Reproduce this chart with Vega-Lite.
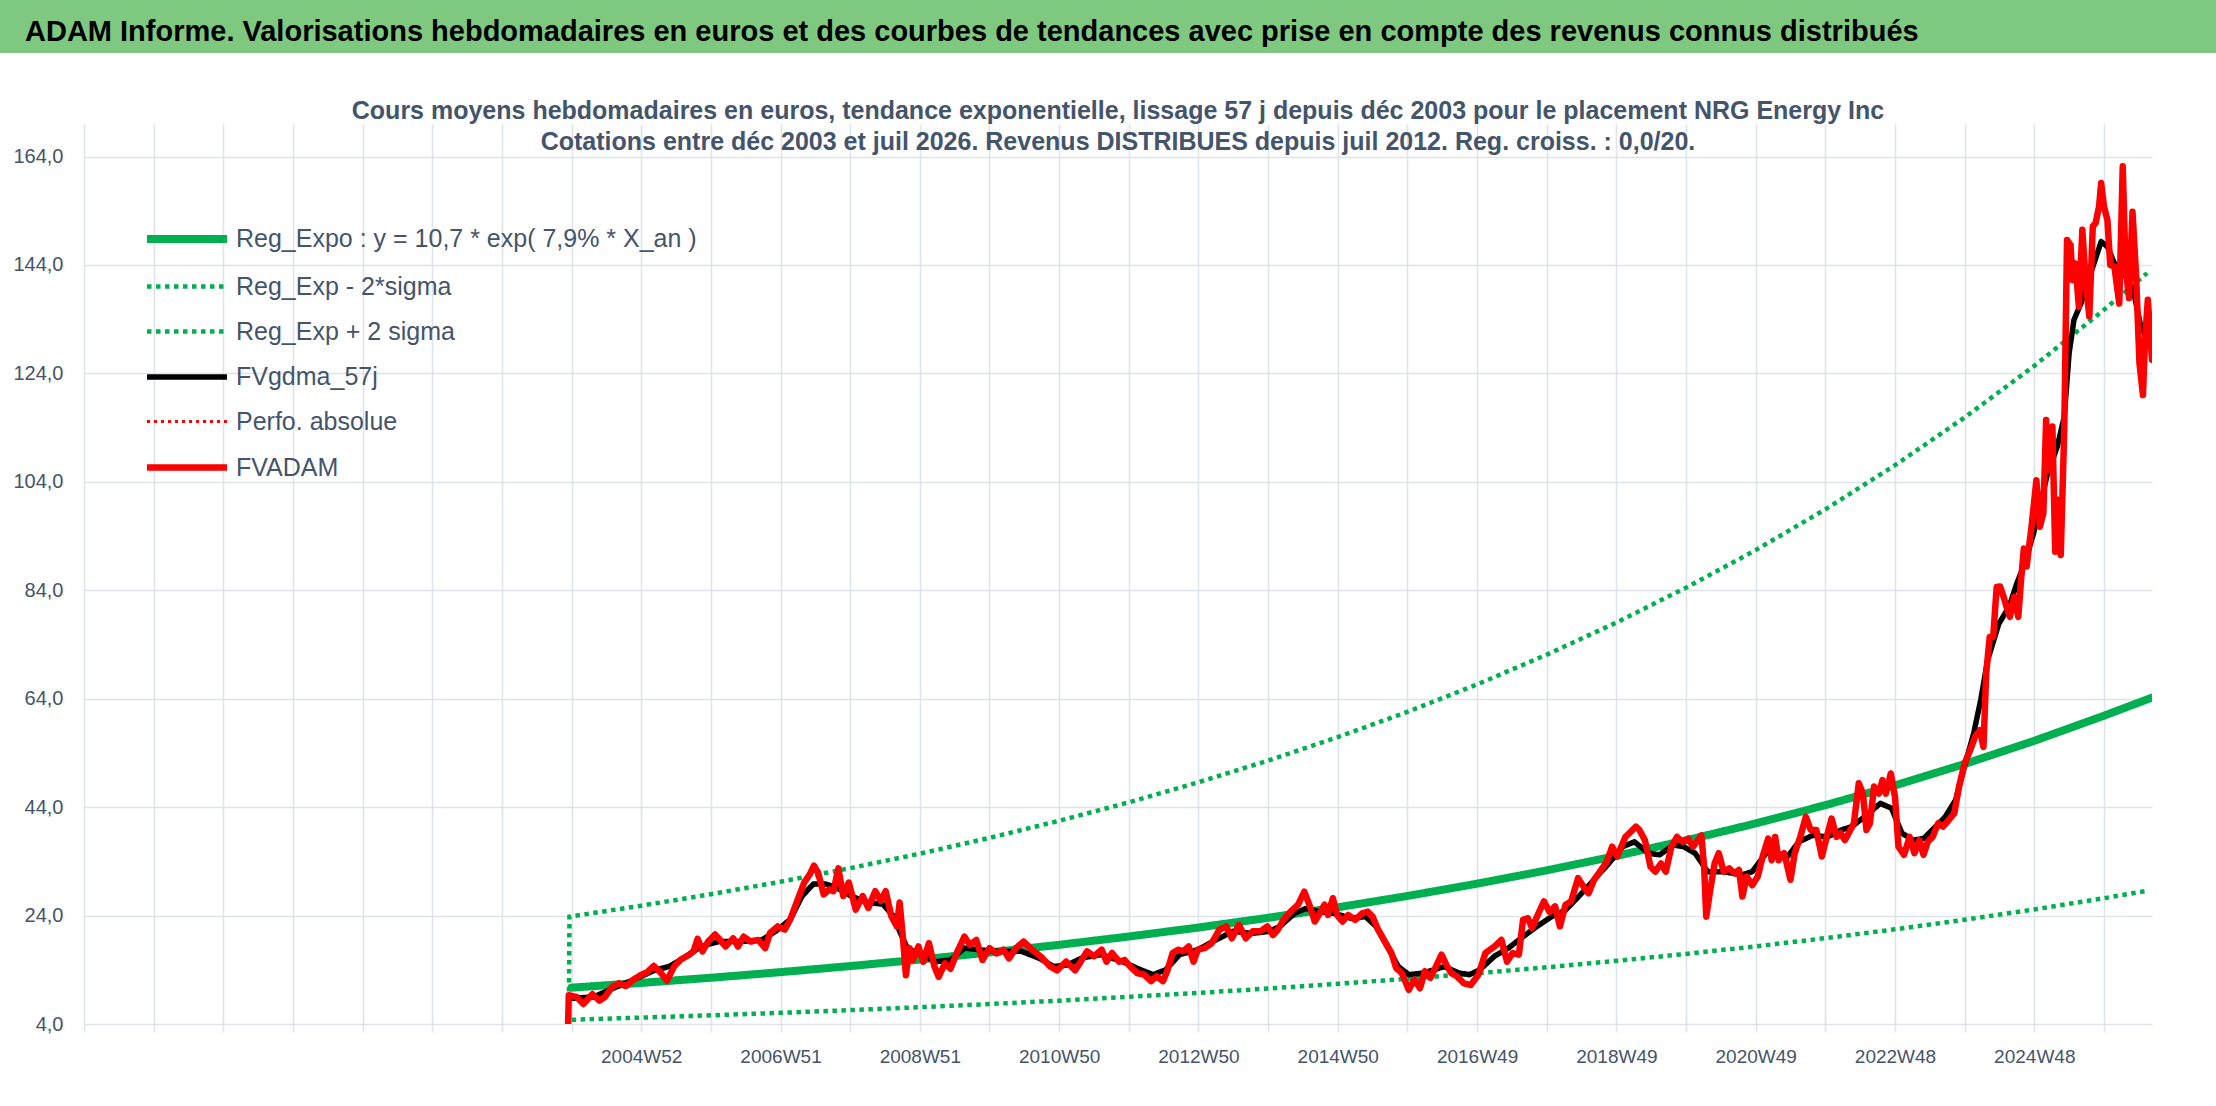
{
  "$schema": "https://vega.github.io/schema/vega-lite/v6.json",
  "padding": 0,
  "background": "white",
  "bounds": "flush",
  "center": true,
  "spacing": 71,
  "datasets": {
    "reg_expo": [
      {"serie": "reg", "x_an": 0, "valeur": 10.70}, {"serie": "reg", "x_an": 1, "valeur": 11.58}, {"serie": "reg", "x_an": 2, "valeur": 12.53},
      {"serie": "reg", "x_an": 3, "valeur": 13.56}, {"serie": "reg", "x_an": 4, "valeur": 14.68}, {"serie": "reg", "x_an": 5, "valeur": 15.88},
      {"serie": "reg", "x_an": 6, "valeur": 17.19}, {"serie": "reg", "x_an": 7, "valeur": 18.60}, {"serie": "reg", "x_an": 8, "valeur": 20.13},
      {"serie": "reg", "x_an": 9, "valeur": 21.79}, {"serie": "reg", "x_an": 10, "valeur": 23.58}, {"serie": "reg", "x_an": 11, "valeur": 25.52},
      {"serie": "reg", "x_an": 12, "valeur": 27.61}, {"serie": "reg", "x_an": 13, "valeur": 29.88}, {"serie": "reg", "x_an": 14, "valeur": 32.34},
      {"serie": "reg", "x_an": 15, "valeur": 35.00}, {"serie": "reg", "x_an": 16, "valeur": 37.88}, {"serie": "reg", "x_an": 17, "valeur": 40.99},
      {"serie": "reg", "x_an": 18, "valeur": 44.36}, {"serie": "reg", "x_an": 19, "valeur": 48.01}, {"serie": "reg", "x_an": 20, "valeur": 51.96},
      {"serie": "reg", "x_an": 21, "valeur": 56.23}, {"serie": "reg", "x_an": 22, "valeur": 60.86}, {"serie": "reg", "x_an": 22.69, "valeur": 64.2}
    ],
    "reg_bas": [
      {"serie": "bas", "x_an": 0, "valeur": 4.78}, {"serie": "bas", "x_an": 1, "valeur": 5.18}, {"serie": "bas", "x_an": 2, "valeur": 5.60},
      {"serie": "bas", "x_an": 3, "valeur": 6.06}, {"serie": "bas", "x_an": 4, "valeur": 6.56}, {"serie": "bas", "x_an": 5, "valeur": 7.10},
      {"serie": "bas", "x_an": 6, "valeur": 7.68}, {"serie": "bas", "x_an": 7, "valeur": 8.31}, {"serie": "bas", "x_an": 8, "valeur": 9.00},
      {"serie": "bas", "x_an": 9, "valeur": 9.74}, {"serie": "bas", "x_an": 10, "valeur": 10.54}, {"serie": "bas", "x_an": 11, "valeur": 11.41},
      {"serie": "bas", "x_an": 12, "valeur": 12.34}, {"serie": "bas", "x_an": 13, "valeur": 13.36}, {"serie": "bas", "x_an": 14, "valeur": 14.46},
      {"serie": "bas", "x_an": 15, "valeur": 15.65}, {"serie": "bas", "x_an": 16, "valeur": 16.93}, {"serie": "bas", "x_an": 17, "valeur": 18.32},
      {"serie": "bas", "x_an": 18, "valeur": 19.83}, {"serie": "bas", "x_an": 19, "valeur": 21.46}, {"serie": "bas", "x_an": 20, "valeur": 23.23},
      {"serie": "bas", "x_an": 21, "valeur": 25.13}, {"serie": "bas", "x_an": 22, "valeur": 27.20}, {"serie": "bas", "x_an": 22.62, "valeur": 28.56}
    ],
    "reg_haut": [
      {"serie": "haut", "x_an": -0.04, "valeur": 5.0}, {"serie": "haut", "x_an": -0.03, "valeur": 23.8}, {"serie": "haut", "x_an": 1, "valeur": 25.82},
      {"serie": "haut", "x_an": 2, "valeur": 27.94}, {"serie": "haut", "x_an": 3, "valeur": 30.24}, {"serie": "haut", "x_an": 4, "valeur": 32.74},
      {"serie": "haut", "x_an": 5, "valeur": 35.41}, {"serie": "haut", "x_an": 6, "valeur": 38.33}, {"serie": "haut", "x_an": 7, "valeur": 41.48},
      {"serie": "haut", "x_an": 8, "valeur": 44.89}, {"serie": "haut", "x_an": 9, "valeur": 48.59}, {"serie": "haut", "x_an": 10, "valeur": 52.58},
      {"serie": "haut", "x_an": 11, "valeur": 56.91}, {"serie": "haut", "x_an": 12, "valeur": 61.57}, {"serie": "haut", "x_an": 13, "valeur": 66.63},
      {"serie": "haut", "x_an": 14, "valeur": 72.12}, {"serie": "haut", "x_an": 15, "valeur": 78.05}, {"serie": "haut", "x_an": 16, "valeur": 84.47},
      {"serie": "haut", "x_an": 17, "valeur": 91.41}, {"serie": "haut", "x_an": 18, "valeur": 98.92}, {"serie": "haut", "x_an": 19, "valeur": 107.06},
      {"serie": "haut", "x_an": 20, "valeur": 115.87}, {"serie": "haut", "x_an": 21, "valeur": 125.39}, {"serie": "haut", "x_an": 22, "valeur": 135.72},
      {"serie": "haut", "x_an": 22.62, "valeur": 142.5}
    ],
    "fvgdma": [
      {"serie": "gdma", "x_an": -0.03, "valeur": 8.7}, {"serie": "gdma", "x_an": 0.32, "valeur": 9.0}, {"serie": "gdma", "x_an": 0.58, "valeur": 10.5},
      {"serie": "gdma", "x_an": 0.88, "valeur": 12.1}, {"serie": "gdma", "x_an": 1.19, "valeur": 13.9}, {"serie": "gdma", "x_an": 1.40, "valeur": 14.6},
      {"serie": "gdma", "x_an": 1.60, "valeur": 16.1}, {"serie": "gdma", "x_an": 1.86, "valeur": 18.3}, {"serie": "gdma", "x_an": 2.11, "valeur": 19.2},
      {"serie": "gdma", "x_an": 2.42, "valeur": 19.2}, {"serie": "gdma", "x_an": 2.73, "valeur": 19.5}, {"serie": "gdma", "x_an": 2.93, "valeur": 21.1},
      {"serie": "gdma", "x_an": 3.14, "valeur": 23.3}, {"serie": "gdma", "x_an": 3.31, "valeur": 27.6}, {"serie": "gdma", "x_an": 3.47, "valeur": 29.8},
      {"serie": "gdma", "x_an": 3.65, "valeur": 29.8}, {"serie": "gdma", "x_an": 3.80, "valeur": 29.2}, {"serie": "gdma", "x_an": 4.01, "valeur": 27.6},
      {"serie": "gdma", "x_an": 4.26, "valeur": 26.4}, {"serie": "gdma", "x_an": 4.47, "valeur": 26.1}, {"serie": "gdma", "x_an": 4.62, "valeur": 23.9},
      {"serie": "gdma", "x_an": 4.72, "valeur": 20.8}, {"serie": "gdma", "x_an": 4.82, "valeur": 18.0}, {"serie": "gdma", "x_an": 5.03, "valeur": 16.7},
      {"serie": "gdma", "x_an": 5.23, "valeur": 15.5}, {"serie": "gdma", "x_an": 5.44, "valeur": 15.8}, {"serie": "gdma", "x_an": 5.64, "valeur": 18.0},
      {"serie": "gdma", "x_an": 5.85, "valeur": 17.7}, {"serie": "gdma", "x_an": 6.05, "valeur": 17.4}, {"serie": "gdma", "x_an": 6.26, "valeur": 17.4},
      {"serie": "gdma", "x_an": 6.46, "valeur": 17.4}, {"serie": "gdma", "x_an": 6.72, "valeur": 16.1}, {"serie": "gdma", "x_an": 6.92, "valeur": 14.6},
      {"serie": "gdma", "x_an": 7.12, "valeur": 14.9}, {"serie": "gdma", "x_an": 7.33, "valeur": 16.2}, {"serie": "gdma", "x_an": 7.61, "valeur": 16.8},
      {"serie": "gdma", "x_an": 7.91, "valeur": 15.5}, {"serie": "gdma", "x_an": 8.17, "valeur": 14.0}, {"serie": "gdma", "x_an": 8.35, "valeur": 13.1},
      {"serie": "gdma", "x_an": 8.53, "valeur": 14.0}, {"serie": "gdma", "x_an": 8.73, "valeur": 16.8}, {"serie": "gdma", "x_an": 8.99, "valeur": 17.7},
      {"serie": "gdma", "x_an": 9.25, "valeur": 19.5}, {"serie": "gdma", "x_an": 9.50, "valeur": 21.1}, {"serie": "gdma", "x_an": 9.76, "valeur": 20.7},
      {"serie": "gdma", "x_an": 10.02, "valeur": 21.1}, {"serie": "gdma", "x_an": 10.17, "valeur": 22.0}, {"serie": "gdma", "x_an": 10.38, "valeur": 24.4},
      {"serie": "gdma", "x_an": 10.54, "valeur": 25.3}, {"serie": "gdma", "x_an": 10.74, "valeur": 24.7}, {"serie": "gdma", "x_an": 10.95, "valeur": 24.4},
      {"serie": "gdma", "x_an": 11.19, "valeur": 23.5}, {"serie": "gdma", "x_an": 11.40, "valeur": 23.8}, {"serie": "gdma", "x_an": 11.55, "valeur": 22.0},
      {"serie": "gdma", "x_an": 11.71, "valeur": 18.3}, {"serie": "gdma", "x_an": 11.87, "valeur": 14.6}, {"serie": "gdma", "x_an": 12.02, "valeur": 13.1},
      {"serie": "gdma", "x_an": 12.23, "valeur": 13.4}, {"serie": "gdma", "x_an": 12.38, "valeur": 14.0}, {"serie": "gdma", "x_an": 12.53, "valeur": 14.6},
      {"serie": "gdma", "x_an": 12.74, "valeur": 13.4}, {"serie": "gdma", "x_an": 12.89, "valeur": 13.1}, {"serie": "gdma", "x_an": 13.04, "valeur": 14.0},
      {"serie": "gdma", "x_an": 13.25, "valeur": 16.5}, {"serie": "gdma", "x_an": 13.45, "valeur": 18.0}, {"serie": "gdma", "x_an": 13.66, "valeur": 20.1},
      {"serie": "gdma", "x_an": 13.86, "valeur": 22.0}, {"serie": "gdma", "x_an": 14.07, "valeur": 23.8}, {"serie": "gdma", "x_an": 14.27, "valeur": 25.0},
      {"serie": "gdma", "x_an": 14.48, "valeur": 27.8}, {"serie": "gdma", "x_an": 14.68, "valeur": 30.6}, {"serie": "gdma", "x_an": 14.89, "valeur": 33.6},
      {"serie": "gdma", "x_an": 15.09, "valeur": 36.7}, {"serie": "gdma", "x_an": 15.26, "valeur": 37.6}, {"serie": "gdma", "x_an": 15.46, "valeur": 35.5},
      {"serie": "gdma", "x_an": 15.62, "valeur": 35.2}, {"serie": "gdma", "x_an": 15.82, "valeur": 37.0}, {"serie": "gdma", "x_an": 15.97, "valeur": 36.7},
      {"serie": "gdma", "x_an": 16.13, "valeur": 35.5}, {"serie": "gdma", "x_an": 16.31, "valeur": 32.1}, {"serie": "gdma", "x_an": 16.54, "valeur": 32.1},
      {"serie": "gdma", "x_an": 16.80, "valeur": 31.5}, {"serie": "gdma", "x_an": 16.95, "valeur": 32.1}, {"serie": "gdma", "x_an": 17.15, "valeur": 35.5},
      {"serie": "gdma", "x_an": 17.31, "valeur": 35.5}, {"serie": "gdma", "x_an": 17.46, "valeur": 34.9}, {"serie": "gdma", "x_an": 17.62, "valeur": 37.6},
      {"serie": "gdma", "x_an": 17.82, "valeur": 38.8}, {"serie": "gdma", "x_an": 18.03, "valeur": 38.5}, {"serie": "gdma", "x_an": 18.23, "valeur": 39.8},
      {"serie": "gdma", "x_an": 18.38, "valeur": 40.4}, {"serie": "gdma", "x_an": 18.59, "valeur": 42.5}, {"serie": "gdma", "x_an": 18.79, "valeur": 44.7},
      {"serie": "gdma", "x_an": 18.95, "valeur": 43.8}, {"serie": "gdma", "x_an": 19.10, "valeur": 39.2}, {"serie": "gdma", "x_an": 19.26, "valeur": 37.9},
      {"serie": "gdma", "x_an": 19.41, "valeur": 38.2}, {"serie": "gdma", "x_an": 19.56, "valeur": 40.1}, {"serie": "gdma", "x_an": 19.72, "valeur": 42.2},
      {"serie": "gdma", "x_an": 19.87, "valeur": 45.3}, {"serie": "gdma", "x_an": 19.97, "valeur": 50.2}, {"serie": "gdma", "x_an": 20.13, "valeur": 57.6},
      {"serie": "gdma", "x_an": 20.23, "valeur": 63.7}, {"serie": "gdma", "x_an": 20.33, "valeur": 71.1}, {"serie": "gdma", "x_an": 20.49, "valeur": 77.8},
      {"serie": "gdma", "x_an": 20.64, "valeur": 81.0}, {"serie": "gdma", "x_an": 20.75, "valeur": 85.3}, {"serie": "gdma", "x_an": 20.85, "valeur": 88.5},
      {"serie": "gdma", "x_an": 20.99, "valeur": 94.5}, {"serie": "gdma", "x_an": 21.18, "valeur": 105.0}, {"serie": "gdma", "x_an": 21.33, "valeur": 110.5},
      {"serie": "gdma", "x_an": 21.43, "valeur": 116.0}, {"serie": "gdma", "x_an": 21.50, "valeur": 127.7}, {"serie": "gdma", "x_an": 21.57, "valeur": 133.9},
      {"serie": "gdma", "x_an": 21.67, "valeur": 136.9}, {"serie": "gdma", "x_an": 21.81, "valeur": 142.5}, {"serie": "gdma", "x_an": 21.96, "valeur": 148.3},
      {"serie": "gdma", "x_an": 22.05, "valeur": 147.4}, {"serie": "gdma", "x_an": 22.15, "valeur": 144.3}, {"serie": "gdma", "x_an": 22.29, "valeur": 142.5},
      {"serie": "gdma", "x_an": 22.43, "valeur": 138.8}, {"serie": "gdma", "x_an": 22.53, "valeur": 132.6}, {"serie": "gdma", "x_an": 22.63, "valeur": 130.2},
      {"serie": "gdma", "x_an": 22.69, "valeur": 129.0}
    ],
    "fvadam": [
      {"serie": "adam", "x_an": -0.05, "valeur": 4.0}, {"serie": "adam", "x_an": -0.04, "valeur": 9.3}, {"serie": "adam", "x_an": 0.07, "valeur": 9.0},
      {"serie": "adam", "x_an": 0.17, "valeur": 7.7}, {"serie": "adam", "x_an": 0.30, "valeur": 9.5}, {"serie": "adam", "x_an": 0.40, "valeur": 8.3},
      {"serie": "adam", "x_an": 0.48, "valeur": 9.0}, {"serie": "adam", "x_an": 0.58, "valeur": 10.8}, {"serie": "adam", "x_an": 0.68, "valeur": 11.5},
      {"serie": "adam", "x_an": 0.78, "valeur": 11.0}, {"serie": "adam", "x_an": 0.88, "valeur": 12.1}, {"serie": "adam", "x_an": 0.99, "valeur": 13.0},
      {"serie": "adam", "x_an": 1.09, "valeur": 13.6}, {"serie": "adam", "x_an": 1.18, "valeur": 14.7}, {"serie": "adam", "x_an": 1.27, "valeur": 13.6},
      {"serie": "adam", "x_an": 1.37, "valeur": 12.0}, {"serie": "adam", "x_an": 1.47, "valeur": 14.6}, {"serie": "adam", "x_an": 1.57, "valeur": 15.9},
      {"serie": "adam", "x_an": 1.68, "valeur": 16.7}, {"serie": "adam", "x_an": 1.75, "valeur": 17.4}, {"serie": "adam", "x_an": 1.81, "valeur": 19.7},
      {"serie": "adam", "x_an": 1.88, "valeur": 17.4}, {"serie": "adam", "x_an": 1.96, "valeur": 19.2}, {"serie": "adam", "x_an": 2.06, "valeur": 20.5},
      {"serie": "adam", "x_an": 2.14, "valeur": 19.4}, {"serie": "adam", "x_an": 2.21, "valeur": 18.3}, {"serie": "adam", "x_an": 2.32, "valeur": 19.8},
      {"serie": "adam", "x_an": 2.39, "valeur": 18.3}, {"serie": "adam", "x_an": 2.47, "valeur": 20.1}, {"serie": "adam", "x_an": 2.57, "valeur": 19.2},
      {"serie": "adam", "x_an": 2.68, "valeur": 19.5}, {"serie": "adam", "x_an": 2.78, "valeur": 18.0}, {"serie": "adam", "x_an": 2.85, "valeur": 20.8},
      {"serie": "adam", "x_an": 2.96, "valeur": 22.0}, {"serie": "adam", "x_an": 3.06, "valeur": 21.4}, {"serie": "adam", "x_an": 3.14, "valeur": 23.3},
      {"serie": "adam", "x_an": 3.21, "valeur": 25.7}, {"serie": "adam", "x_an": 3.34, "valeur": 30.1}, {"serie": "adam", "x_an": 3.42, "valeur": 31.6},
      {"serie": "adam", "x_an": 3.48, "valeur": 33.2}, {"serie": "adam", "x_an": 3.54, "valeur": 31.9}, {"serie": "adam", "x_an": 3.62, "valeur": 27.9},
      {"serie": "adam", "x_an": 3.70, "valeur": 28.8}, {"serie": "adam", "x_an": 3.76, "valeur": 28.5}, {"serie": "adam", "x_an": 3.83, "valeur": 32.7},
      {"serie": "adam", "x_an": 3.90, "valeur": 27.6}, {"serie": "adam", "x_an": 3.98, "valeur": 30.1}, {"serie": "adam", "x_an": 4.08, "valeur": 25.1},
      {"serie": "adam", "x_an": 4.18, "valeur": 27.6}, {"serie": "adam", "x_an": 4.26, "valeur": 25.4}, {"serie": "adam", "x_an": 4.36, "valeur": 28.5},
      {"serie": "adam", "x_an": 4.44, "valeur": 26.7}, {"serie": "adam", "x_an": 4.51, "valeur": 28.5}, {"serie": "adam", "x_an": 4.59, "valeur": 23.9},
      {"serie": "adam", "x_an": 4.67, "valeur": 22.0}, {"serie": "adam", "x_an": 4.71, "valeur": 26.4}, {"serie": "adam", "x_an": 4.76, "valeur": 19.5},
      {"serie": "adam", "x_an": 4.80, "valeur": 13.0}, {"serie": "adam", "x_an": 4.85, "valeur": 18.0}, {"serie": "adam", "x_an": 4.90, "valeur": 15.8},
      {"serie": "adam", "x_an": 4.98, "valeur": 18.3}, {"serie": "adam", "x_an": 5.05, "valeur": 15.5}, {"serie": "adam", "x_an": 5.13, "valeur": 18.9},
      {"serie": "adam", "x_an": 5.21, "valeur": 14.6}, {"serie": "adam", "x_an": 5.27, "valeur": 12.7}, {"serie": "adam", "x_an": 5.36, "valeur": 15.2},
      {"serie": "adam", "x_an": 5.44, "valeur": 14.2}, {"serie": "adam", "x_an": 5.54, "valeur": 17.4}, {"serie": "adam", "x_an": 5.64, "valeur": 20.1},
      {"serie": "adam", "x_an": 5.72, "valeur": 18.6}, {"serie": "adam", "x_an": 5.81, "valeur": 19.5}, {"serie": "adam", "x_an": 5.90, "valeur": 15.8},
      {"serie": "adam", "x_an": 6.00, "valeur": 18.0}, {"serie": "adam", "x_an": 6.10, "valeur": 17.0}, {"serie": "adam", "x_an": 6.20, "valeur": 17.7},
      {"serie": "adam", "x_an": 6.28, "valeur": 16.1}, {"serie": "adam", "x_an": 6.38, "valeur": 18.0}, {"serie": "adam", "x_an": 6.49, "valeur": 19.2},
      {"serie": "adam", "x_an": 6.61, "valeur": 17.7}, {"serie": "adam", "x_an": 6.74, "valeur": 16.4}, {"serie": "adam", "x_an": 6.87, "valeur": 14.6},
      {"serie": "adam", "x_an": 6.97, "valeur": 13.9}, {"serie": "adam", "x_an": 7.10, "valeur": 15.5}, {"serie": "adam", "x_an": 7.23, "valeur": 13.9},
      {"serie": "adam", "x_an": 7.30, "valeur": 15.3}, {"serie": "adam", "x_an": 7.40, "valeur": 17.4}, {"serie": "adam", "x_an": 7.50, "valeur": 16.5},
      {"serie": "adam", "x_an": 7.61, "valeur": 17.7}, {"serie": "adam", "x_an": 7.68, "valeur": 15.5}, {"serie": "adam", "x_an": 7.76, "valeur": 17.1},
      {"serie": "adam", "x_an": 7.86, "valeur": 15.5}, {"serie": "adam", "x_an": 7.94, "valeur": 15.8}, {"serie": "adam", "x_an": 8.02, "valeur": 14.6},
      {"serie": "adam", "x_an": 8.12, "valeur": 13.4}, {"serie": "adam", "x_an": 8.22, "valeur": 13.1}, {"serie": "adam", "x_an": 8.32, "valeur": 11.9},
      {"serie": "adam", "x_an": 8.40, "valeur": 12.8}, {"serie": "adam", "x_an": 8.49, "valeur": 11.9}, {"serie": "adam", "x_an": 8.55, "valeur": 13.7},
      {"serie": "adam", "x_an": 8.63, "valeur": 17.1}, {"serie": "adam", "x_an": 8.71, "valeur": 17.7}, {"serie": "adam", "x_an": 8.78, "valeur": 17.4},
      {"serie": "adam", "x_an": 8.86, "valeur": 18.3}, {"serie": "adam", "x_an": 8.93, "valeur": 15.5}, {"serie": "adam", "x_an": 8.99, "valeur": 17.7},
      {"serie": "adam", "x_an": 9.09, "valeur": 18.0}, {"serie": "adam", "x_an": 9.19, "valeur": 18.9}, {"serie": "adam", "x_an": 9.30, "valeur": 21.4},
      {"serie": "adam", "x_an": 9.40, "valeur": 22.0}, {"serie": "adam", "x_an": 9.48, "valeur": 19.8}, {"serie": "adam", "x_an": 9.58, "valeur": 22.3},
      {"serie": "adam", "x_an": 9.68, "valeur": 19.8}, {"serie": "adam", "x_an": 9.78, "valeur": 21.1}, {"serie": "adam", "x_an": 9.89, "valeur": 21.1},
      {"serie": "adam", "x_an": 9.99, "valeur": 22.0}, {"serie": "adam", "x_an": 10.07, "valeur": 20.4}, {"serie": "adam", "x_an": 10.14, "valeur": 21.4},
      {"serie": "adam", "x_an": 10.22, "valeur": 23.2}, {"serie": "adam", "x_an": 10.32, "valeur": 24.7}, {"serie": "adam", "x_an": 10.43, "valeur": 26.0},
      {"serie": "adam", "x_an": 10.52, "valeur": 28.4}, {"serie": "adam", "x_an": 10.60, "valeur": 25.7}, {"serie": "adam", "x_an": 10.67, "valeur": 22.9},
      {"serie": "adam", "x_an": 10.74, "valeur": 24.4}, {"serie": "adam", "x_an": 10.81, "valeur": 26.0}, {"serie": "adam", "x_an": 10.86, "valeur": 24.1},
      {"serie": "adam", "x_an": 10.93, "valeur": 27.2}, {"serie": "adam", "x_an": 10.99, "valeur": 24.1}, {"serie": "adam", "x_an": 11.07, "valeur": 22.9},
      {"serie": "adam", "x_an": 11.15, "valeur": 24.1}, {"serie": "adam", "x_an": 11.25, "valeur": 23.2}, {"serie": "adam", "x_an": 11.35, "valeur": 24.4},
      {"serie": "adam", "x_an": 11.43, "valeur": 24.7}, {"serie": "adam", "x_an": 11.50, "valeur": 23.8}, {"serie": "adam", "x_an": 11.58, "valeur": 21.4},
      {"serie": "adam", "x_an": 11.69, "valeur": 18.9}, {"serie": "adam", "x_an": 11.77, "valeur": 17.1}, {"serie": "adam", "x_an": 11.84, "valeur": 14.3},
      {"serie": "adam", "x_an": 11.92, "valeur": 13.4}, {"serie": "adam", "x_an": 12.02, "valeur": 10.3}, {"serie": "adam", "x_an": 12.10, "valeur": 12.2},
      {"serie": "adam", "x_an": 12.18, "valeur": 10.6}, {"serie": "adam", "x_an": 12.25, "valeur": 13.7}, {"serie": "adam", "x_an": 12.33, "valeur": 12.5},
      {"serie": "adam", "x_an": 12.41, "valeur": 14.6}, {"serie": "adam", "x_an": 12.49, "valeur": 16.8}, {"serie": "adam", "x_an": 12.56, "valeur": 14.9},
      {"serie": "adam", "x_an": 12.63, "valeur": 13.4}, {"serie": "adam", "x_an": 12.71, "valeur": 12.8}, {"serie": "adam", "x_an": 12.81, "valeur": 11.5},
      {"serie": "adam", "x_an": 12.91, "valeur": 11.2}, {"serie": "adam", "x_an": 13.02, "valeur": 13.1}, {"serie": "adam", "x_an": 13.12, "valeur": 17.1},
      {"serie": "adam", "x_an": 13.25, "valeur": 18.3}, {"serie": "adam", "x_an": 13.35, "valeur": 19.5}, {"serie": "adam", "x_an": 13.43, "valeur": 15.5},
      {"serie": "adam", "x_an": 13.51, "valeur": 17.1}, {"serie": "adam", "x_an": 13.60, "valeur": 16.8}, {"serie": "adam", "x_an": 13.66, "valeur": 23.2},
      {"serie": "adam", "x_an": 13.73, "valeur": 23.5}, {"serie": "adam", "x_an": 13.79, "valeur": 21.7}, {"serie": "adam", "x_an": 13.86, "valeur": 23.8},
      {"serie": "adam", "x_an": 13.96, "valeur": 26.6}, {"serie": "adam", "x_an": 14.04, "valeur": 24.7}, {"serie": "adam", "x_an": 14.12, "valeur": 25.7},
      {"serie": "adam", "x_an": 14.19, "valeur": 22.0}, {"serie": "adam", "x_an": 14.27, "valeur": 26.0}, {"serie": "adam", "x_an": 14.35, "valeur": 26.6},
      {"serie": "adam", "x_an": 14.45, "valeur": 30.9}, {"serie": "adam", "x_an": 14.53, "valeur": 29.3}, {"serie": "adam", "x_an": 14.60, "valeur": 28.1},
      {"serie": "adam", "x_an": 14.68, "valeur": 30.6}, {"serie": "adam", "x_an": 14.78, "valeur": 32.4}, {"serie": "adam", "x_an": 14.86, "valeur": 33.9},
      {"serie": "adam", "x_an": 14.94, "valeur": 36.7}, {"serie": "adam", "x_an": 15.01, "valeur": 34.9}, {"serie": "adam", "x_an": 15.13, "valeur": 38.5},
      {"serie": "adam", "x_an": 15.21, "valeur": 39.5}, {"serie": "adam", "x_an": 15.28, "valeur": 40.4}, {"serie": "adam", "x_an": 15.33, "valeur": 39.8},
      {"serie": "adam", "x_an": 15.41, "valeur": 37.9}, {"serie": "adam", "x_an": 15.49, "valeur": 33.0}, {"serie": "adam", "x_an": 15.56, "valeur": 32.1},
      {"serie": "adam", "x_an": 15.64, "valeur": 33.6}, {"serie": "adam", "x_an": 15.71, "valeur": 32.1}, {"serie": "adam", "x_an": 15.79, "valeur": 36.7},
      {"serie": "adam", "x_an": 15.87, "valeur": 38.5}, {"serie": "adam", "x_an": 15.95, "valeur": 37.6}, {"serie": "adam", "x_an": 16.03, "valeur": 38.2},
      {"serie": "adam", "x_an": 16.10, "valeur": 36.7}, {"serie": "adam", "x_an": 16.17, "valeur": 37.9}, {"serie": "adam", "x_an": 16.22, "valeur": 38.8},
      {"serie": "adam", "x_an": 16.26, "valeur": 33.0}, {"serie": "adam", "x_an": 16.29, "valeur": 23.8}, {"serie": "adam", "x_an": 16.34, "valeur": 28.1},
      {"serie": "adam", "x_an": 16.41, "valeur": 33.6}, {"serie": "adam", "x_an": 16.47, "valeur": 35.5}, {"serie": "adam", "x_an": 16.54, "valeur": 32.1},
      {"serie": "adam", "x_an": 16.62, "valeur": 32.7}, {"serie": "adam", "x_an": 16.69, "valeur": 31.8}, {"serie": "adam", "x_an": 16.76, "valeur": 32.4},
      {"serie": "adam", "x_an": 16.81, "valeur": 27.5}, {"serie": "adam", "x_an": 16.87, "valeur": 31.2}, {"serie": "adam", "x_an": 16.95, "valeur": 29.6},
      {"serie": "adam", "x_an": 17.03, "valeur": 31.2}, {"serie": "adam", "x_an": 17.10, "valeur": 34.9}, {"serie": "adam", "x_an": 17.18, "valeur": 38.2},
      {"serie": "adam", "x_an": 17.23, "valeur": 34.2}, {"serie": "adam", "x_an": 17.28, "valeur": 38.5}, {"serie": "adam", "x_an": 17.33, "valeur": 34.2},
      {"serie": "adam", "x_an": 17.41, "valeur": 35.5}, {"serie": "adam", "x_an": 17.50, "valeur": 30.6}, {"serie": "adam", "x_an": 17.56, "valeur": 35.5},
      {"serie": "adam", "x_an": 17.64, "valeur": 38.5}, {"serie": "adam", "x_an": 17.72, "valeur": 42.2}, {"serie": "adam", "x_an": 17.79, "valeur": 39.8},
      {"serie": "adam", "x_an": 17.87, "valeur": 39.8}, {"serie": "adam", "x_an": 17.95, "valeur": 34.9}, {"serie": "adam", "x_an": 18.02, "valeur": 38.5},
      {"serie": "adam", "x_an": 18.09, "valeur": 41.9}, {"serie": "adam", "x_an": 18.16, "valeur": 38.5}, {"serie": "adam", "x_an": 18.22, "valeur": 39.2},
      {"serie": "adam", "x_an": 18.28, "valeur": 37.9}, {"serie": "adam", "x_an": 18.36, "valeur": 39.8}, {"serie": "adam", "x_an": 18.41, "valeur": 41.0},
      {"serie": "adam", "x_an": 18.48, "valeur": 48.4}, {"serie": "adam", "x_an": 18.54, "valeur": 46.5}, {"serie": "adam", "x_an": 18.59, "valeur": 39.8},
      {"serie": "adam", "x_an": 18.64, "valeur": 41.0}, {"serie": "adam", "x_an": 18.70, "valeur": 47.8}, {"serie": "adam", "x_an": 18.77, "valeur": 46.5},
      {"serie": "adam", "x_an": 18.82, "valeur": 49.0}, {"serie": "adam", "x_an": 18.87, "valeur": 46.5}, {"serie": "adam", "x_an": 18.94, "valeur": 50.2},
      {"serie": "adam", "x_an": 19.00, "valeur": 45.9}, {"serie": "adam", "x_an": 19.05, "valeur": 36.7}, {"serie": "adam", "x_an": 19.13, "valeur": 35.2},
      {"serie": "adam", "x_an": 19.21, "valeur": 38.5}, {"serie": "adam", "x_an": 19.28, "valeur": 35.5}, {"serie": "adam", "x_an": 19.35, "valeur": 37.9},
      {"serie": "adam", "x_an": 19.41, "valeur": 35.2}, {"serie": "adam", "x_an": 19.47, "valeur": 37.6}, {"serie": "adam", "x_an": 19.54, "valeur": 38.5},
      {"serie": "adam", "x_an": 19.62, "valeur": 41.0}, {"serie": "adam", "x_an": 19.69, "valeur": 40.4}, {"serie": "adam", "x_an": 19.77, "valeur": 41.6},
      {"serie": "adam", "x_an": 19.85, "valeur": 42.8}, {"serie": "adam", "x_an": 19.92, "valeur": 47.8}, {"serie": "adam", "x_an": 20.00, "valeur": 52.1},
      {"serie": "adam", "x_an": 20.08, "valeur": 54.5}, {"serie": "adam", "x_an": 20.15, "valeur": 57.0}, {"serie": "adam", "x_an": 20.22, "valeur": 58.2},
      {"serie": "adam", "x_an": 20.27, "valeur": 55.1}, {"serie": "adam", "x_an": 20.31, "valeur": 68.7}, {"serie": "adam", "x_an": 20.36, "valeur": 75.4},
      {"serie": "adam", "x_an": 20.41, "valeur": 75.4}, {"serie": "adam", "x_an": 20.46, "valeur": 84.6}, {"serie": "adam", "x_an": 20.51, "valeur": 84.7},
      {"serie": "adam", "x_an": 20.56, "valeur": 82.8}, {"serie": "adam", "x_an": 20.60, "valeur": 81.0}, {"serie": "adam", "x_an": 20.65, "valeur": 79.1},
      {"serie": "adam", "x_an": 20.71, "valeur": 82.8}, {"serie": "adam", "x_an": 20.77, "valeur": 79.1}, {"serie": "adam", "x_an": 20.81, "valeur": 85.9},
      {"serie": "adam", "x_an": 20.85, "valeur": 91.7}, {"serie": "adam", "x_an": 20.89, "valeur": 88.4}, {"serie": "adam", "x_an": 20.96, "valeur": 95.7},
      {"serie": "adam", "x_an": 21.03, "valeur": 104.3}, {"serie": "adam", "x_an": 21.08, "valeur": 95.7}, {"serie": "adam", "x_an": 21.13, "valeur": 98.2},
      {"serie": "adam", "x_an": 21.17, "valeur": 115.4}, {"serie": "adam", "x_an": 21.21, "valeur": 106.2}, {"serie": "adam", "x_an": 21.26, "valeur": 114.2},
      {"serie": "adam", "x_an": 21.30, "valeur": 91.1}, {"serie": "adam", "x_an": 21.34, "valeur": 100.7}, {"serie": "adam", "x_an": 21.38, "valeur": 90.5},
      {"serie": "adam", "x_an": 21.43, "valeur": 113.6}, {"serie": "adam", "x_an": 21.47, "valeur": 148.6}, {"serie": "adam", "x_an": 21.52, "valeur": 147.7},
      {"serie": "adam", "x_an": 21.55, "valeur": 141.2}, {"serie": "adam", "x_an": 21.59, "valeur": 144.3}, {"serie": "adam", "x_an": 21.64, "valeur": 136.3},
      {"serie": "adam", "x_an": 21.69, "valeur": 150.5}, {"serie": "adam", "x_an": 21.74, "valeur": 140.6}, {"serie": "adam", "x_an": 21.79, "valeur": 134.5},
      {"serie": "adam", "x_an": 21.84, "valeur": 151.1}, {"serie": "adam", "x_an": 21.88, "valeur": 151.7}, {"serie": "adam", "x_an": 21.93, "valeur": 154.8},
      {"serie": "adam", "x_an": 21.96, "valeur": 159.1}, {"serie": "adam", "x_an": 22.00, "valeur": 154.8}, {"serie": "adam", "x_an": 22.05, "valeur": 152.3},
      {"serie": "adam", "x_an": 22.09, "valeur": 144.0}, {"serie": "adam", "x_an": 22.15, "valeur": 143.7}, {"serie": "adam", "x_an": 22.22, "valeur": 136.9},
      {"serie": "adam", "x_an": 22.27, "valeur": 162.2}, {"serie": "adam", "x_an": 22.31, "valeur": 143.7}, {"serie": "adam", "x_an": 22.36, "valeur": 137.9},
      {"serie": "adam", "x_an": 22.41, "valeur": 153.8}, {"serie": "adam", "x_an": 22.46, "valeur": 142.5}, {"serie": "adam", "x_an": 22.51, "valeur": 125.9},
      {"serie": "adam", "x_an": 22.56, "valeur": 120.0}, {"serie": "adam", "x_an": 22.59, "valeur": 130.2}, {"serie": "adam", "x_an": 22.63, "valeur": 137.6},
      {"serie": "adam", "x_an": 22.67, "valeur": 130.2}, {"serie": "adam", "x_an": 22.69, "valeur": 126.5}
    ]
  },
  "vconcat": [
    {
      "width": 2236,
      "height": 53,
      "data": {"values": [{"bandeau": "ADAM"}]},
      "title": {
        "text": "ADAM Informe. Valorisations hebdomadaires en euros et des courbes de tendances avec prise en compte des revenus connus distribués",
        "anchor": "start",
        "frame": "group",
        "orient": "top",
        "offset": -47,
        "dx": 25,
        "font": "Liberation Sans, sans-serif",
        "fontSize": 29,
        "fontWeight": "bold",
        "color": "#000000"
      },
      "mark": {"type": "rect", "color": "#7fc87f"},
      "encoding": {}
    },
    {
      "width": 2068,
      "height": 900,
      "title": {
        "text": [
          "Cours moyens hebdomadaires en euros, tendance exponentielle, lissage 57 j depuis déc 2003 pour le placement NRG Energy Inc",
          "Cotations entre déc 2003 et juil 2026. Revenus DISTRIBUES depuis juil 2012. Reg. croiss. : 0,0/20."
        ],
        "anchor": "middle",
        "offset": -31,
        "lineHeight": 31,
        "font": "Liberation Sans, sans-serif",
        "fontSize": 25,
        "fontWeight": "bold",
        "color": "#44546a"
      },
      "encoding": {
        "x": {
          "field": "x_an",
          "type": "quantitative",
          "scale": {"domain": [-7, 22.69], "nice": false, "zero": false},
          "axis": {
            "title": null,
            "values": [-7, -6, -5, -4, -3, -2, -1, 0, 1, 2, 3, 4, 5, 6, 7, 8, 9, 10, 11, 12, 13, 14, 15, 16, 17, 18, 19, 20, 21, 22],
            "labelExpr": "datum.value >= 1 ? ['', '2004W52', '', '2006W51', '', '2008W51', '', '2010W50', '', '2012W50', '', '2014W50', '', '2016W49', '', '2018W49', '', '2020W49', '', '2022W48', '', '2024W48', ''][datum.value] : ''",
            "grid": true,
            "ticks": true,
            "tickSize": 8,
            "labelPadding": 15,
            "labelFontSize": 19,
            "labelFlush": false,
            "labelOverlap": false
          }
        },
        "y": {
          "field": "valeur",
          "type": "quantitative",
          "scale": {"domain": [4, 170], "nice": false, "zero": false},
          "axis": {
            "title": null,
            "values": [4, 24, 44, 64, 84, 104, 124, 144, 164],
            "labelExpr": "replace(format(datum.value, '.1f'), '.', ',')",
            "grid": true,
            "ticks": false,
            "labelPadding": 21,
            "labelFontSize": 20
          }
        },
        "color": {
          "field": "serie",
          "type": "nominal",
          "scale": {
            "domain": ["reg", "bas", "haut", "gdma", "perfo", "adam"],
            "range": ["#00b050", "#00b050", "#00b050", "#000000", "#ff0000", "#ff0000"]
          },
          "legend": {
            "title": null,
            "orient": "none",
            "legendX": 173,
            "legendY": 225,
            "padding": 0,
            "symbolType": "M-4,0H4",
            "symbolSize": 400,
            "labelOffset": 35,
            "rowPadding": 19,
            "labelFontSize": 25,
            "labelLimit": 900,
            "labelExpr": "datum.label == 'reg' ? 'Reg_Expo : y = 10,7 * exp( 7,9% *  X_an )' : datum.label == 'bas' ? 'Reg_Exp - 2*sigma' : datum.label == 'haut' ? 'Reg_Exp + 2 sigma' : datum.label == 'gdma' ? 'FVgdma_57j' : datum.label == 'perfo' ? 'Perfo. absolue' : 'FVADAM'"
          }
        },
        "strokeDash": {
          "field": "serie",
          "type": "nominal",
          "scale": {
            "domain": ["reg", "bas", "haut", "gdma", "perfo", "adam"],
            "range": [[1, 0], [4.5, 4.5], [4.5, 4.5], [1, 0], [3, 4], [1, 0]]
          }
        },
        "strokeWidth": {
          "field": "serie",
          "type": "nominal",
          "scale": {
            "type": "ordinal",
            "domain": ["reg", "bas", "haut", "gdma", "perfo", "adam"],
            "range": [8, 4.5, 4.5, 5.5, 3, 6.5]
          }
        }
      },
      "layer": [
        {
          "data": {"name": "reg_expo"},
          "mark": {"type": "line", "strokeCap": "round", "clip": true}
        },
        {
          "data": {"name": "reg_bas"},
          "mark": {"type": "line", "strokeCap": "butt", "clip": true}
        },
        {
          "data": {"name": "reg_haut"},
          "mark": {"type": "line", "strokeCap": "butt", "clip": true}
        },
        {
          "data": {"name": "fvgdma"},
          "mark": {"type": "line", "strokeCap": "round", "strokeJoin": "round", "clip": true}
        },
        {
          "data": {"name": "fvadam"},
          "mark": {"type": "line", "strokeCap": "round", "strokeJoin": "round", "clip": true}
        }
      ]
    }
  ],
  "config": {
    "view": {"stroke": null},
    "font": "Liberation Sans, sans-serif",
    "axis": {
      "labelFont": "Liberation Sans, sans-serif",
      "labelColor": "#44546a",
      "gridColor": "#dfe3ea",
      "gridWidth": 1.6,
      "tickColor": "#dfe3ea",
      "tickWidth": 1.6,
      "domain": false
    },
    "legend": {
      "labelFont": "Liberation Sans, sans-serif",
      "labelColor": "#44546a"
    }
  }
}
